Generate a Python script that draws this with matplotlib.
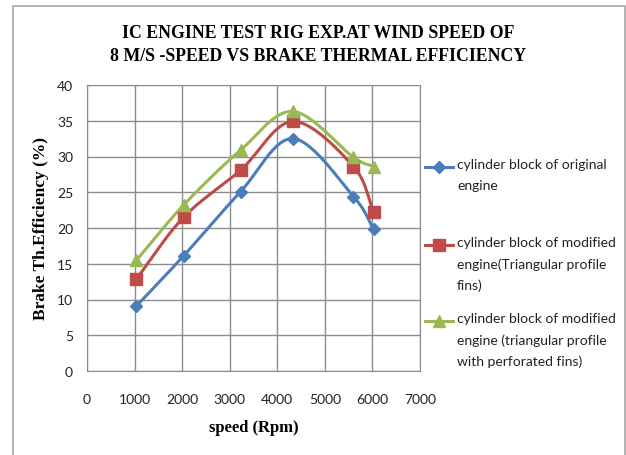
import numpy as np
import matplotlib
matplotlib.use("Agg")
import matplotlib.pyplot as plt
from matplotlib.lines import Line2D
from matplotlib.patches import Rectangle

speed = [1040, 2030, 3230, 4330, 5600, 6030]
original = [9.1, 16.1, 25.1, 32.5, 24.4, 19.8]
triangular = [12.9, 21.5, 28.1, 34.9, 28.6, 22.2]
perforated = [15.5, 23.2, 30.9, 36.3, 29.9, 28.6]

labels = ["cylinder block of original\nengine",
          "cylinder block of modified\nengine(Triangular profile\nfins)",
          "cylinder block of modified\nengine (triangular profile\nwith perforated fins)"]
colors = ["#4a7ebb", "#be4b48", "#98b954"]
markers = ["D", "s", "^"]
msizes = [6, 8, 8]


def smooth(x, y, n=30):
    x = np.asarray(x, float)
    y = np.asarray(y, float)
    px = np.concatenate([[2 * x[0] - x[1]], x, [2 * x[-1] - x[-2]]])
    py = np.concatenate([[2 * y[0] - y[1]], y, [2 * y[-1] - y[-2]]])
    xs, ys = [], []
    for i in range(1, len(px) - 2):
        p0, p1, p2, p3 = [np.array([px[j], py[j]]) for j in (i - 1, i, i + 1, i + 2)]
        c1 = p1 + (p2 - p0) / 6
        c2 = p2 - (p3 - p1) / 6
        t = np.linspace(0, 1, n)[:, None]
        pts = ((1 - t) ** 3) * p1 + 3 * ((1 - t) ** 2) * t * c1 + 3 * (1 - t) * t ** 2 * c2 + t ** 3 * p2
        xs.append(pts[:, 0])
        ys.append(pts[:, 1])
    return np.concatenate(xs), np.concatenate(ys)


fig = plt.figure(figsize=(6.26, 4.56), dpi=100)
ax = fig.add_axes([87 / 626, 1 - 372 / 456, (420 - 87) / 626, (372 - 86) / 456])

for ys, c, m, ms in zip([original, triangular, perforated], colors, markers, msizes):
    sx, sy = smooth(speed, ys)
    ax.plot(sx, sy, color=c, lw=2.2, zorder=3)
    ax.plot(speed, ys, linestyle="none", marker=m, color=c, markersize=ms, zorder=4)

ax.set_xlim(0, 7000)
ax.set_ylim(0, 40)
ax.set_xticks(range(0, 7001, 1000))
ax.set_yticks(range(0, 41, 5))
ax.grid(True, color="#8c8c8c", lw=1)
ax.set_axisbelow(True)
for s in ax.spines.values():
    s.set_color("#8c8c8c")
ax.tick_params(length=0, labelsize=10, colors="#222222")
ax.tick_params(axis="x", pad=16)
ax.tick_params(axis="y", pad=10)
for lab in ax.get_xticklabels() + ax.get_yticklabels():
    lab.set_family("Lato")

ax.set_xlabel("speed (Rpm)", family="Liberation Serif", fontweight="bold", fontsize=12, labelpad=10)
ax.set_ylabel("Brake Th.Efficiency (%)", family="Liberation Serif", fontweight="bold", fontsize=12.5, labelpad=6)

fig.text(0.508, 1 - 45 / 456, "IC ENGINE TEST RIG EXP.AT WIND SPEED OF\n8 M/S -SPEED VS BRAKE THERMAL EFFICIENCY",
         ha="center", va="center", family="Liberation Serif", fontweight="bold", fontsize=12.8,
         linespacing=1.45)

# chart border
fig.patches.append(Rectangle((13 / 626, -0.01), (625 - 13) / 626, 1 - 7 / 456 + 0.01,
                             transform=fig.transFigure, fill=False, edgecolor="#a6a6a6", lw=1.2))

# legend
ys_leg = [168, 246, 322]
for lab, c, m, ms, yl in zip(labels, colors, markers, msizes, ys_leg):
    yf = 1 - yl / 456
    fig.add_artist(Line2D([425 / 626, 453 / 626], [yf, yf], color=c, lw=2.2, transform=fig.transFigure))
    fig.add_artist(Line2D([439 / 626], [yf], marker=m, color=c, markersize=ms, transform=fig.transFigure))
    fig.text(457 / 626, yf + 9 / 456, lab, ha="left", va="top", family="Lato", fontsize=10,
             linespacing=1.85, color="#222222")

fig.savefig("out.png", dpi=100)
